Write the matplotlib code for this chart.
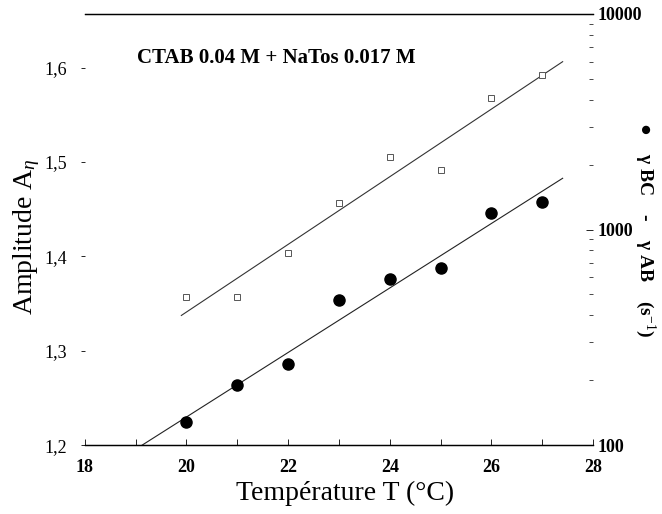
import numpy as np
import matplotlib
matplotlib.use("Agg")
import matplotlib.pyplot as plt
import matplotlib.ticker as ticker

# data
temperature = [20, 21, 22, 23, 24, 25, 26, 27]
amplitude = [1.357, 1.357, 1.404, 1.457, 1.505, 1.492, 1.568, 1.592]
gamma_diff = [128, 190, 238, 471, 589, 663, 1194, 1343]

x_ticks = [18, 20, 22, 24, 26, 28]
left_ticks = [1.2, 1.3, 1.4, 1.5, 1.6]
left_labels = ["1,2", "1,3", "1,4", "1,5", "1,6"]
right_ticks = [100, 1000, 10000]
right_labels = ["100", "1000", "10000"]

plt.rcParams["font.family"] = ["Liberation Serif", "DejaVu Serif"]
plt.rcParams["mathtext.fontset"] = "custom"
plt.rcParams["mathtext.rm"] = "Liberation Serif"
plt.rcParams["mathtext.it"] = "Liberation Serif:italic"
plt.rcParams["mathtext.bf"] = "Liberation Serif:bold"

fig = plt.figure(figsize=(6.62, 5.14), dpi=100)
ax = fig.add_axes([0.128, 0.134, 0.768, 0.839])
ax2 = ax.twinx()

# linear fits (amplitude linear, gamma in log space)
p_amp = np.polyfit(temperature, amplitude, 1)
p_gam = np.polyfit(temperature, np.log10(gamma_diff), 1)
xf1 = np.array([19.9, 27.4])
xf2 = np.array([19.0, 27.4])

ax.plot(xf1, np.polyval(p_amp, xf1), color="#333333", lw=0.8, zorder=2)
ax.plot(temperature, amplitude, ls="none", marker="s", ms=5, mfc="white",
        mec="#555555", mew=0.7, zorder=3)

ax2.plot(xf2, 10 ** np.polyval(p_gam, xf2), color="#222222", lw=0.8, zorder=2)
ax2.plot(temperature, gamma_diff, ls="none", marker="o", ms=8,
         color="black", zorder=3)

ax.set_xlim(18, 28)
ax.set_ylim(1.2, 1.657)
ax2.set_yscale("log")
ax2.set_ylim(100, 10000)

ax.set_xticks(x_ticks)
ax.set_xticklabels([str(t) for t in x_ticks], fontsize=13, fontweight="bold")
ax.xaxis.set_minor_locator(ticker.MultipleLocator(1))
ax.set_yticks(left_ticks)
ax.set_yticklabels(left_labels, fontsize=13)
ax.yaxis.set_minor_locator(ticker.NullLocator())
ax.tick_params(axis="x", which="both", direction="in", length=4, width=0.6, pad=10)
ax.tick_params(axis="y", which="both", direction="out", length=3, width=0.6, pad=10)

ax2.set_yticks(right_ticks)
ax2.set_yticklabels(right_labels, fontsize=13, fontweight="bold")
ax2.yaxis.set_minor_locator(ticker.LogLocator(base=10, subs=np.arange(2, 10)))
ax2.yaxis.set_minor_formatter(ticker.NullFormatter())
ax2.tick_params(axis="y", which="major", direction="in", length=5, width=0.6, pad=3)
ax2.tick_params(axis="y", which="minor", direction="in", length=3, width=0.5)

for a in (ax, ax2):
    a.spines["left"].set_visible(False)
    a.spines["right"].set_visible(False)
    a.spines["top"].set_linewidth(0.9)
    a.spines["bottom"].set_linewidth(0.9)

ax.set_xlabel("Température T (°C)", fontsize=20, va="center")
ax.xaxis.set_label_coords(0.512, -0.111)
ax.set_ylabel(r"Amplitude A$_{\eta}$", fontsize=20, va="center")
ax.yaxis.set_label_coords(-0.114, 0.483)
ax2.set_ylabel("●    γ BC    -    γ AB    (s$^{-1}$)",
               fontsize=14, fontweight="bold", rotation=-90, va="center")
ax2.yaxis.set_label_coords(1.103, 0.5)

ax.text(0.102, 0.898, "CTAB 0.04 M + NaTos 0.017 M", transform=ax.transAxes,
        fontsize=15, fontweight="bold", va="center")

fig.savefig("out.png", dpi=100)
